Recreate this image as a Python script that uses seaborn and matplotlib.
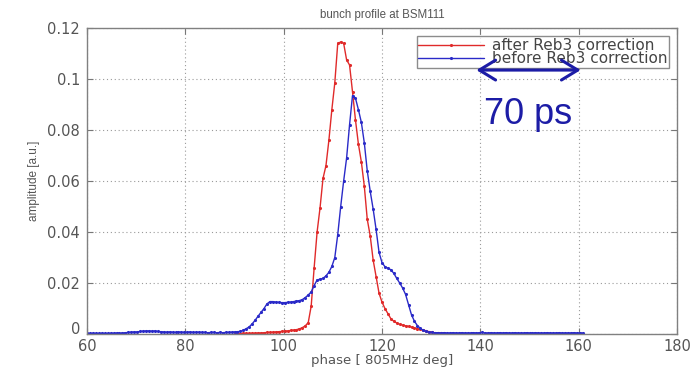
import numpy as np
import pandas as pd
import matplotlib
matplotlib.use("Agg")
import matplotlib.pyplot as plt
import seaborn as sns

# ---- data ----
phase_before = [
    60.0, 60.6, 61.2, 61.8, 62.4, 63.0, 63.6, 64.2, 64.8, 65.4, 66.0, 66.6, 67.2, 67.8,
    68.4, 69.0, 69.6, 70.2, 70.8, 71.4, 72.0, 72.6, 73.2, 73.8, 74.4, 75.0,
    75.6, 76.2, 76.8, 77.4, 78.0, 78.6, 79.2, 79.8, 80.4, 81.0, 81.6, 82.2, 82.8, 83.4,
    84.0, 84.6, 85.2, 85.8, 86.4, 87.0, 87.6, 88.2, 88.8,
    89.4, 90.0, 90.6, 91.2, 91.8, 92.4, 93.0, 93.6, 94.2, 94.8, 95.4, 96.0, 96.6, 97.2,
    97.8, 98.4, 99.0, 99.6, 100.2, 100.8, 101.4, 102.0, 102.6, 103.2, 103.8, 104.4,
    105.0, 105.6, 106.2, 106.8, 107.4, 108.0, 108.6, 109.2, 109.8, 110.4, 111.0, 111.6,
    112.2, 112.8, 113.4, 114.0, 114.6, 115.2, 115.8, 116.4, 117.0, 117.6, 118.2, 118.8,
    119.4, 120.0, 120.6, 121.2, 121.8, 122.4, 123.0, 123.6, 124.2, 124.8, 125.4, 126.0,
    126.6, 127.2, 127.8, 128.4, 129.0, 129.6, 130.2, 130.8,
    131.4, 132.0, 132.6, 133.2, 133.8, 134.4, 135.0, 135.6, 136.2, 136.8, 137.4, 138.0,
    138.6, 139.2, 139.8, 140.4, 141.0, 141.6, 142.2, 142.8, 143.4, 144.0, 144.6, 145.2,
    145.8, 146.4, 147.0, 147.6, 148.2, 148.8, 149.4, 150.0, 150.6, 151.2, 151.8, 152.4,
    153.0, 153.6, 154.2, 154.8, 155.4, 156.0, 156.6, 157.2, 157.8, 158.4, 159.0, 159.6,
    160.2, 160.8,
]
amp_before = [
    0.0003, 0.0002, 0.0003, 0.0002, 0.0002, 0.0003, 0.0002, 0.0002, 0.0003, 0.0003, 0.0004, 0.0003, 0.0004, 0.0005,
    0.0006, 0.0007, 0.0008, 0.0008, 0.0010, 0.0011, 0.0012, 0.0012, 0.0011, 0.0012, 0.0010, 0.0009,
    0.0008, 0.0007, 0.0008, 0.0007, 0.0006, 0.0008, 0.0007, 0.0006, 0.0007, 0.0008, 0.0006, 0.0007, 0.0007, 0.0006,
    0.0006, 0.0005, 0.0006, 0.0006, 0.0005, 0.0006, 0.0005, 0.0006, 0.0006,
    0.0007, 0.0008, 0.0009, 0.0010, 0.0015, 0.0021, 0.0028, 0.0040, 0.0054, 0.0070, 0.0085, 0.0100, 0.0118, 0.0127,
    0.0127, 0.0125, 0.0124, 0.0123, 0.0123, 0.0124, 0.0125, 0.0127, 0.0129, 0.0131, 0.0135, 0.0143,
    0.0153, 0.0165, 0.0190, 0.0212, 0.0215, 0.0218, 0.0228, 0.0242, 0.0265, 0.0300, 0.0390, 0.0500,
    0.0600, 0.0690, 0.0820, 0.0935, 0.0925, 0.0880, 0.0830, 0.0750, 0.0640, 0.0560, 0.0490, 0.0410,
    0.0320, 0.0280, 0.0264, 0.0258, 0.0252, 0.0238, 0.0218, 0.0200, 0.0180, 0.0155, 0.0115, 0.0075,
    0.0050, 0.0033, 0.0022, 0.0014, 0.0010, 0.0007, 0.0006, 0.0005,
    0.0005, 0.0004, 0.0005, 0.0004, 0.0004, 0.0005, 0.0004, 0.0004, 0.0005, 0.0004, 0.0004, 0.0004,
    0.0005, 0.0004, 0.0005, 0.0006, 0.0004, 0.0004, 0.0005, 0.0004, 0.0004, 0.0005, 0.0004, 0.0005,
    0.0004, 0.0004, 0.0005, 0.0004, 0.0004, 0.0004, 0.0005, 0.0004, 0.0004, 0.0005, 0.0004, 0.0004,
    0.0004, 0.0005, 0.0004, 0.0004, 0.0004, 0.0005, 0.0004, 0.0004, 0.0004, 0.0004, 0.0005, 0.0004,
    0.0004, 0.0004,
]

phase_after = [
    90.0, 90.6, 91.2, 91.8, 92.4, 93.0, 93.6, 94.2, 94.8, 95.4, 96.0, 96.6, 97.2, 97.8,
    98.4, 99.0, 99.6, 100.2, 100.8, 101.4, 102.0, 102.6, 103.2, 103.8, 104.4, 105.0,
    105.6, 106.2, 106.8, 107.4, 108.0, 108.6, 109.2, 109.8, 110.4, 111.0, 111.6, 112.2,
    112.8, 113.4, 114.0, 114.6, 115.2, 115.8, 116.4, 117.0, 117.6, 118.2, 118.8, 119.4,
    120.0, 120.6, 121.2, 121.8, 122.4, 123.0, 123.6, 124.2, 124.8, 125.4, 126.0, 126.6,
    127.2, 127.8, 128.4, 129.0, 129.6, 130.2, 130.8, 131.4, 132.0, 132.6, 133.2,
]
amp_after = [
    0.0001, 0.0001, 0.0001, 0.0002, 0.0002, 0.0002, 0.0003, 0.0003, 0.0004, 0.0004, 0.0005, 0.0006, 0.0006, 0.0007,
    0.0008, 0.0009, 0.0010, 0.0011, 0.0012, 0.0014, 0.0015, 0.0017, 0.0020, 0.0025, 0.0032, 0.0045,
    0.0110, 0.0260, 0.0400, 0.0495, 0.0610, 0.0660, 0.0760, 0.0880, 0.0985, 0.1140, 0.1145, 0.1140,
    0.1075, 0.1055, 0.0950, 0.0840, 0.0745, 0.0675, 0.0580, 0.0450, 0.0385, 0.0290, 0.0225, 0.0160,
    0.0125, 0.0100, 0.0080, 0.0060, 0.0050, 0.0043, 0.0038, 0.0035, 0.0032, 0.0030, 0.0027, 0.0024,
    0.0021, 0.0018, 0.0016, 0.0012, 0.0009, 0.0006, 0.0004, 0.0003, 0.0002, 0.0002, 0.0001,
]

labels = ["after Reb3 correction", "before Reb3 correction"]
x_ticks = [60, 80, 100, 120, 140, 160, 180]
y_ticks = [0, 0.02, 0.04, 0.06, 0.08, 0.1, 0.12]
y_ticklabels = ["0", "0.02", "0.04", "0.06", "0.08", "0.1", "0.12"]

# ---- figure ----
sns.set_theme(style="white")
plt.rcParams["font.family"] = ["Liberation Sans", "DejaVu Sans"]
wide = ["DejaVu Sans"]

fig = plt.figure(figsize=(6.92, 3.68), dpi=100)
ax = fig.add_axes([87 / 692, 34 / 368, (677 - 87) / 692, (334 - 28) / 368])

df_after = pd.DataFrame({"phase": phase_after, "amp": amp_after})
df_before = pd.DataFrame({"phase": phase_before, "amp": amp_before})

red = "#e02a2a"
blue = "#2a2ac8"
sns.lineplot(data=df_after, x="phase", y="amp", ax=ax, color=red, lw=1.0,
             marker=".", markersize=4.5, markeredgewidth=0, label=labels[0])
sns.lineplot(data=df_before, x="phase", y="amp", ax=ax, color=blue, lw=1.0,
             marker=".", markersize=4.5, markeredgewidth=0, label=labels[1])

ax.set_xlim(60, 180)
ax.set_ylim(0, 0.12)
ax.set_xticks(x_ticks)
ax.set_yticks(y_ticks)
ax.set_yticklabels(y_ticklabels)

tick_col = "#555555"
ax.tick_params(axis="both", direction="in", length=4, width=0.8, color="#777777",
               labelsize=10.5, labelcolor=tick_col, top=True, right=True,
               bottom=True, left=True)
ax.tick_params(axis="x", pad=3.5)
ax.tick_params(axis="y", pad=5)
for lab in ax.get_xticklabels() + ax.get_yticklabels():
    lab.set_family(wide)
ax.get_yticklabels()[0].set_verticalalignment("baseline")
for s in ax.spines.values():
    s.set_color("#808080")
    s.set_linewidth(1.0)

ax.grid(True, color="#9a9a9a", linestyle=(0, (1, 2.5)), linewidth=0.8)
ax.set_axisbelow(True)

ax.set_xlabel("phase [ 805MHz deg]", fontsize=9.5, color=tick_col, labelpad=0,
              family=wide)
ax.set_ylabel("amplitude [a.u.]", fontsize=8.5, color=tick_col, labelpad=5)
ax.set_title("bunch profile at BSM111", fontsize=8.3, color=tick_col, pad=7)

leg = ax.legend(loc="upper right", frameon=True, fancybox=False,
                prop={"family": wide, "size": 11},
                edgecolor="#707070", borderpad=0.1, labelspacing=-0.1,
                handlelength=4.3, handletextpad=0.5, borderaxespad=0.55)
leg.get_frame().set_linewidth(1.0)
for t in leg.get_texts():
    t.set_color("#444444")

# 70 ps annotation
navy = "#1c1ca6"
ax.annotate("", xy=(139.2, 0.1035), xytext=(160.4, 0.1035), zorder=10,
            arrowprops=dict(arrowstyle="<->,head_length=0.9,head_width=0.55",
                            color=navy, lw=2.2, mutation_scale=13,
                            shrinkA=0, shrinkB=0))
ax.text(149.8, 0.0862, "70 ps", fontsize=26, color=navy, ha="center", va="center")

fig.savefig("out.png", dpi=100)
